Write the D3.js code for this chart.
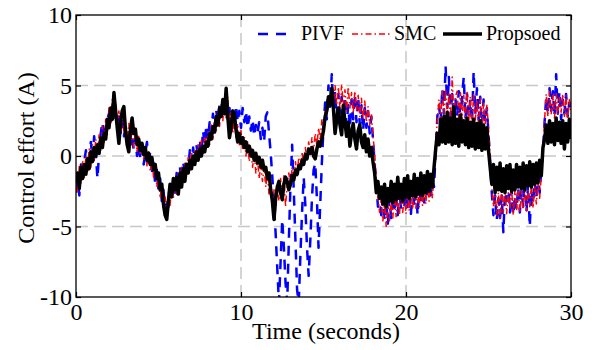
<!DOCTYPE html>
<html>
<head>
<meta charset="utf-8">
<script src="https://cdn.jsdelivr.net/npm/d3@7"></script>
<style>
  body { margin: 0; background: #fff; }
  svg text { font-family: "Liberation Serif", "Times New Roman", serif; fill: #000; }
</style>
</head>
<body>
<div class="bigvis"></div>
<script>
var margin = {top: 15, right: 24, bottom: 53, left: 76}
var width = 595
var height = 350

// sampling of the traces (seconds)
var tStart = 0
var tStep = 0.1

var xTicks = [0, 10, 20, 30]
var yTicks = [-10, -5, 0, 5, 10]
var gridX = [10, 20]
var gridY = [-5, 0, 5]

var seriesNames = ["PIVF", "SMC", "Propsoed"]

// PIVF control effort, one row per second
var pivf = [
  -2.6,-1.2,-2.8,-0.6,-1.6,-0.4,0.4,-1.0,0.0,1.0,
  -0.2,1.4,0.2,-1.6,0.2,1.6,2.4,1.2,2.0,2.6,
  3.0,2.2,3.5,2.6,3.2,2.1,2.8,1.6,2.5,1.4,
  2.0,1.2,1.8,0.8,1.4,0.4,1.2,0.0,0.8,-0.2,
  0.5,-0.6,0.2,1.0,-0.8,0.4,-1.2,-0.5,-2.0,-1.0,
  -2.4,-1.6,-3.2,-2.4,-3.8,-3.0,-3.6,-2.4,-3.0,-1.8,
  -2.6,-1.2,-2.0,-0.8,-1.8,-0.4,-1.5,-0.2,-1.0,0.4,
  -0.6,0.6,-0.4,0.8,-0.2,1.2,0.2,1.8,0.8,2.2,
  1.2,2.4,1.6,3.0,2.0,3.2,2.4,3.6,2.8,4.0,
  3.0,3.8,2.6,3.4,2.2,3.0,2.0,3.6,2.4,3.2,
  2.0,3.4,2.4,3.2,2.0,2.8,1.8,2.6,1.4,2.2,
  1.6,2.4,1.2,2.0,1.0,2.8,3.1,1.6,0.2,-1.5,
  -3.5,-5.5,-8.0,-10.4,-7.5,-4.5,-6.5,-9.0,-10.4,-6.0,
  -2.0,0.8,-2.5,-6.0,-9.5,-10.4,-7.0,-4.0,-1.5,-3.5,
  -6.5,-8.5,-6.0,-3.0,-1.0,-0.5,-3.0,-6.5,-3.5,-0.5,
  2.0,3.8,2.6,5.0,3.4,5.8,3.2,4.6,2.8,4.4,
  3.0,4.2,2.4,4.0,2.2,3.6,2.0,4.0,2.6,4.4,
  2.4,4.2,2.2,3.6,1.8,3.4,2.0,3.2,1.6,2.8,
  1.2,-0.6,-2.0,-3.6,-2.6,-4.2,-3.0,-4.6,-3.2,-4.8,
  -3.0,-4.4,-2.8,-4.0,-2.6,-4.2,-2.4,-3.8,-2.2,-3.6,
  -2.0,-3.8,-2.4,-4.1,-2.2,-3.6,-2.0,-4.2,-2.4,-3.4,
  -1.8,-3.3,-1.6,-3.0,-1.4,-2.8,-1.6,-2.2,0.4,2.8,
  3.6,2.4,4.8,3.0,6.4,3.4,5.6,2.8,4.4,2.6,
  4.0,2.8,4.6,2.4,4.2,5.6,2.6,4.4,2.8,4.0,
  2.4,6.0,3.0,4.8,2.6,4.2,2.2,4.0,2.4,3.4,
  1.6,-0.4,-2.6,-4.2,-2.8,-4.6,-3.0,-4.4,-2.8,-5.4,
  -2.6,-3.2,-1.8,-4.0,-2.4,-4.2,-2.8,-3.8,-2.2,-4.0,
  -2.4,-3.6,-1.6,-4.0,-2.0,-5.0,-2.4,-3.4,-1.8,-3.0,
  -1.2,-2.6,-1.0,0.4,2.4,4.2,3.0,4.8,3.2,4.6,
  2.8,5.8,3.0,4.6,2.6,4.0,3.0,4.4,2.8,3.8,
  3.2
]

// SMC control effort
var smc = [
  -1.2,-2.6,-0.7,-2.0,-0.3,-1.6,0.0,-1.2,0.5,-0.8,
  0.8,-0.4,1.2,0.1,1.5,0.4,2.1,0.9,2.6,1.5,
  3.5,2.2,4.0,2.7,3.7,2.0,3.2,1.6,2.9,1.7,
  2.6,1.2,2.3,0.8,2.0,0.6,1.7,0.3,1.4,0.1,
  1.0,-0.3,0.7,-0.7,0.3,-1.1,-0.1,-1.5,-0.6,-2.2,
  -1.2,-3.0,-2.0,-3.8,-2.8,-4.2,-2.6,-3.5,-2.0,-3.0,
  -1.6,-2.7,-1.2,-2.2,-0.8,-1.8,-0.4,-1.4,-0.1,-1.0,
  0.3,-0.7,0.5,-0.4,0.8,-0.1,1.1,0.2,1.4,0.5,
  1.7,0.8,2.2,1.2,2.6,1.7,3.1,2.1,3.7,2.5,
  4.1,2.7,4.2,2.2,3.2,1.6,2.8,1.3,2.3,0.8,
  1.8,0.4,1.4,0.0,1.0,-0.4,0.6,-0.8,0.1,-1.2,
  -0.2,-1.6,-0.6,-1.8,-0.8,-2.2,-1.2,-2.8,-1.8,-3.4,
  -2.4,-3.8,-2.2,-3.2,-1.6,-3.0,-1.4,-3.6,-2.0,-1.2,
  -2.2,-0.8,-1.8,-0.4,-1.4,-0.1,-1.0,0.3,-0.6,0.6,
  -0.2,1.0,0.1,1.3,0.4,1.6,0.7,2.0,1.1,2.6,
  2.0,3.2,2.8,4.2,3.6,4.8,3.5,5.0,3.6,4.9,
  3.3,5.1,3.6,4.7,3.2,4.9,3.4,4.5,3.0,4.6,
  3.2,4.3,2.8,4.1,2.6,3.9,2.4,3.5,2.2,3.0,
  1.4,0.2,-1.6,-3.0,-4.0,-3.0,-4.6,-3.2,-5.0,-3.4,
  -4.6,-3.2,-4.4,-2.8,-4.3,-3.0,-4.2,-2.6,-4.0,-2.8,
  -4.1,-2.5,-3.9,-2.4,-3.8,-2.2,-3.7,-2.4,-3.6,-2.1,
  -3.5,-2.0,-3.4,-1.9,-3.2,-1.8,-3.0,-1.2,0.8,2.6,
  4.0,2.6,4.6,3.0,4.8,2.8,4.4,2.6,5.6,2.9,
  4.2,4.6,2.7,4.5,2.5,4.3,2.8,4.6,2.4,4.2,
  2.3,4.4,2.5,4.0,2.2,4.1,2.0,3.8,2.3,3.6,
  2.0,0.0,-2.2,-3.6,-2.4,-4.2,-2.6,-4.4,-2.5,-4.0,
  -2.2,-4.1,-2.6,-3.8,-2.3,-4.2,-2.4,-3.9,-2.2,-4.0,
  -2.5,-3.8,-2.1,-3.9,-2.4,-3.6,-2.0,-3.7,-2.2,-3.4,
  -1.9,-3.0,-1.4,0.6,2.6,4.4,2.8,4.6,3.0,4.3,
  2.7,4.5,2.9,4.2,3.1,4.4,2.8,4.3,2.6,4.0,
  3.0
]

// Proposed controller control effort
var proposed = [
  -1.9,-1.2,-2.3,-0.8,-1.6,-0.6,-1.3,-0.2,-0.9,0.3,
  -0.4,0.6,0.0,0.8,0.2,1.3,0.6,1.6,1.2,2.6,
  2.0,3.4,2.6,4.5,3.2,2.0,0.9,2.4,3.2,3.5,
  1.8,0.8,0.3,1.9,2.7,1.6,1.9,0.8,1.2,0.4,
  0.9,0.1,0.6,-0.3,0.2,-0.6,-0.1,-1.0,-0.6,-1.6,
  -1.2,-2.4,-2.0,-3.4,-4.2,-4.5,-3.2,-2.0,-2.9,-1.6,
  -2.4,-1.5,-2.7,-1.2,-2.2,-0.9,-1.8,-0.6,-1.2,-0.3,
  -0.9,0.0,-0.6,0.3,-0.3,0.5,0.0,0.7,0.3,1.0,
  0.7,1.6,1.2,2.1,1.7,2.8,2.2,3.4,2.8,4.0,
  3.0,4.8,2.8,1.3,2.0,3.2,3.0,1.8,1.0,1.6,
  0.9,1.3,0.6,1.0,0.3,0.7,0.0,0.4,-0.3,0.2,
  -0.5,-0.1,-0.8,-0.3,-1.0,-0.8,-1.6,-1.2,-2.4,-3.2,
  -4.5,-3.0,-2.2,-1.8,-2.6,-3.1,-2.0,-1.5,-1.8,-2.4,
  -2.0,-1.4,-1.7,-1.0,-1.3,-0.7,-0.9,-0.3,-0.6,0.1,
  -0.2,0.5,0.2,0.6,0.0,-0.2,0.5,1.0,0.7,1.2,
  1.8,2.8,3.2,4.2,3.6,4.8,3.4,1.6,2.6,3.4,
  2.2,1.5,3.6,2.4,1.4,2.4,0.7,1.6,2.3,1.2,
  0.5,1.8,2.2,1.0,0.6,1.5,0.3,1.2,0.0,0.6,
  -0.4,-1.2,-2.6,-1.8,-3.0,-2.2,-3.4,-2.0,-3.6,-2.3,
  -3.2,-1.8,-3.3,-2.0,-3.1,-1.5,-3.0,-2.0,-3.2,-1.6,
  -2.9,-1.4,-3.0,-1.8,-2.8,-1.3,-2.9,-1.6,-2.7,-1.2,
  -2.8,-1.4,-2.6,-1.1,-2.5,-1.3,-2.2,-0.8,0.5,1.6,
  0.8,2.6,1.0,2.8,0.9,3.1,1.0,2.7,0.8,3.5,
  0.9,2.6,0.7,2.9,1.0,2.5,0.8,2.7,0.6,2.4,
  0.7,2.6,0.5,2.3,0.6,2.5,0.4,2.2,0.5,2.0,
  0.4,-0.8,-2.0,-0.6,-2.6,-0.8,-2.4,-0.5,-2.5,-0.9,
  -2.6,-0.7,-2.3,-0.6,-2.5,-1.0,-2.4,-0.6,-2.2,-0.8,
  -2.3,-0.5,-2.4,-0.7,-2.1,-0.4,-2.2,-0.6,-2.0,-0.5,
  -1.9,-0.3,-1.4,0.6,1.2,2.2,0.9,2.5,1.0,2.3,
  0.8,2.7,1.1,2.4,0.9,2.5,0.5,2.3,1.0,2.6,
  1.2
]

var serif = '"Liberation Serif", "Times New Roman", serif'

var styles = [
  {data: pivf, color: "#0000ff", width: 2.5, dash: "10,8"},
  {data: smc, color: "#ff0000", width: 1.5, dash: "6,3,1.5,3"},
  {data: proposed, color: "#000000", width: 3.5, dash: null}
]

var svg = d3.select(".bigvis").append("svg")
    .attr("width", width)
    .attr("height", height)
    .attr("font-family", serif)

var w = width - margin.left - margin.right
var h = height - margin.top - margin.bottom

var x = d3.scaleLinear().domain([0, 30]).range([0, w])
var y = d3.scaleLinear().domain([-10, 10]).range([h, 0])

var g = svg.append("g")
    .attr("transform", "translate(" + margin.left + "," + margin.top + ")")

svg.append("defs").append("clipPath").attr("id", "plotclip")
  .append("rect").attr("x", 0).attr("y", 0).attr("width", w).attr("height", h)

// grid
g.selectAll("line.gx").data(gridX).enter().append("line")
    .attr("class", "gx")
    .attr("x1", d => x(d)).attr("x2", d => x(d))
    .attr("y1", 0).attr("y2", h)
    .attr("stroke", "#c8c8c8").attr("stroke-width", 1.5)
    .attr("stroke-dasharray", "12,6")
g.selectAll("line.gy").data(gridY).enter().append("line")
    .attr("class", "gy")
    .attr("x1", 0).attr("x2", w)
    .attr("y1", d => y(d)).attr("y2", d => y(d))
    .attr("stroke", "#c8c8c8").attr("stroke-width", 1.5)
    .attr("stroke-dasharray", "12,6")

// traces
var line = d3.line()
    .x(function(d, i){ return x(tStart + i * tStep) })
    .y(function(d){ return y(d) })

var traces = g.append("g").attr("clip-path", "url(#plotclip)")
styles.forEach(function(s){
  traces.append("path")
    .datum(s.data)
    .attr("d", line)
    .attr("fill", "none")
    .attr("stroke", s.color)
    .attr("stroke-width", s.width)
    .attr("stroke-linejoin", "round")
    .attr("stroke-dasharray", s.dash)
})

// axes, ticks pointing in, plain hyphen minus like matlab
var fontSize = "24px"
var plain = function(d){ return String(d) }
g.append("g").attr("transform", "translate(0," + h + ")")
    .call(d3.axisBottom(x).tickValues(xTicks).tickSize(-5).tickSizeOuter(0).tickPadding(6).tickFormat(plain))
g.append("g")
    .call(d3.axisLeft(y).tickValues(yTicks).tickSize(-5).tickSizeOuter(0).tickPadding(4).tickFormat(plain))
g.append("g")
    .call(d3.axisTop(x).tickValues(xTicks).tickSize(-5).tickSizeOuter(0).tickFormat(""))
g.append("g").attr("transform", "translate(" + w + ",0)")
    .call(d3.axisRight(y).tickValues(yTicks).tickSize(-5).tickSizeOuter(0).tickFormat(""))

g.selectAll(".domain").remove()
g.selectAll("g").attr("font-family", serif).attr("font-size", 24)
g.selectAll(".tick line").attr("stroke", "#000").attr("stroke-width", 1.2)
g.selectAll(".tick text").attr("fill", "#000")

g.append("rect")
    .attr("x", 0).attr("y", 0).attr("width", w).attr("height", h)
    .attr("fill", "none").attr("stroke", "#000").attr("stroke-width", 1.3)

// axis labels
svg.append("text")
    .attr("x", 326).attr("y", 339)
    .attr("text-anchor", "middle")
    .style("font-size", fontSize)
    .text("Time (seconds)")
svg.append("text")
    .attr("transform", "translate(34,158) rotate(-90)")
    .attr("text-anchor", "middle")
    .style("font-size", fontSize)
    .text("Control effort (A)")

// legend
var legendItems = [
  {x1: 258, x2: 290, tx: 301},
  {x1: 352, x2: 392, tx: 394},
  {x1: 443, x2: 482, tx: 486}
]
var legend = svg.append("g")
legendItems.forEach(function(it, i){
  var s = styles[i]
  legend.append("line")
    .attr("x1", it.x1).attr("x2", it.x2)
    .attr("y1", 34).attr("y2", 34)
    .attr("stroke", s.color)
    .attr("stroke-width", s.width)
    .attr("stroke-dasharray", s.dash)
  legend.append("text")
    .attr("x", it.tx).attr("y", 40)
    .style("font-size", "20px")
    .text(seriesNames[i])
})
</script>
</body>
</html>
